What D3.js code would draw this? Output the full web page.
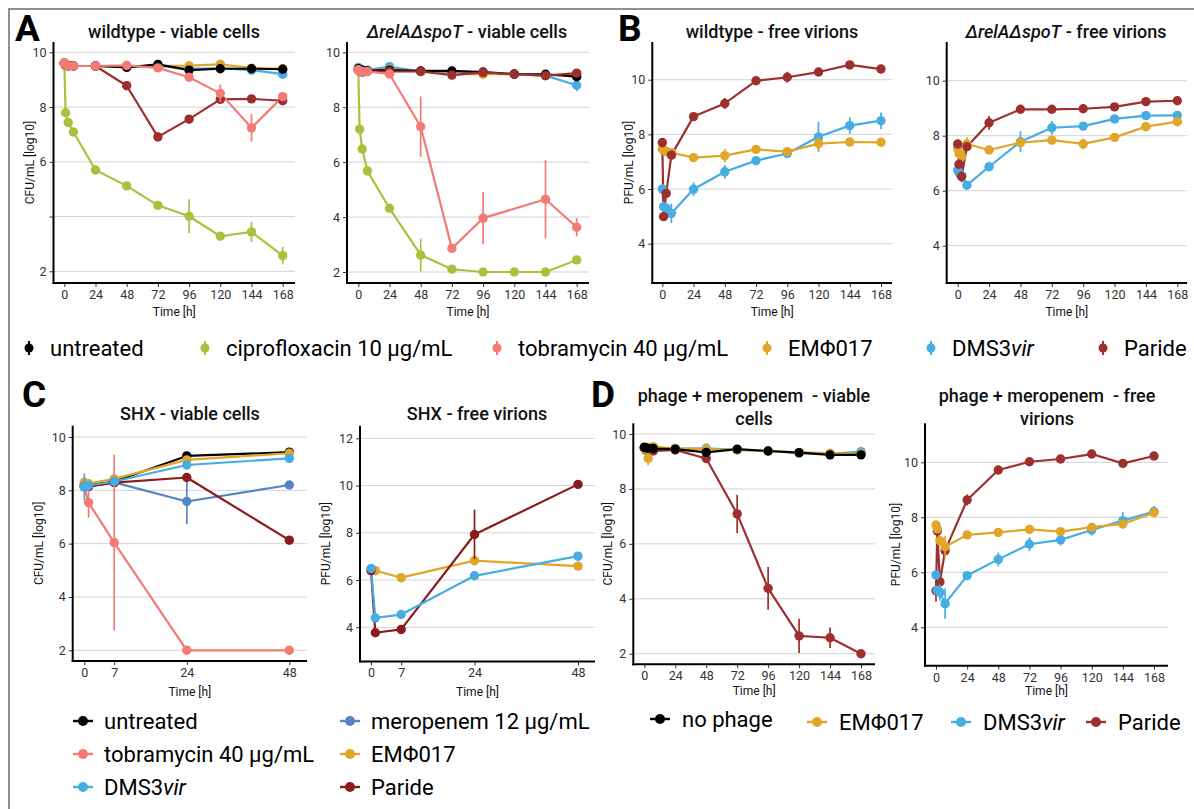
<!DOCTYPE html>
<html><head><meta charset="utf-8">
<script src="https://cdn.jsdelivr.net/npm/d3@7"></script>
<style>
body{margin:0;background:#fff}
svg{display:block}
text{font-family:Roboto,"Noto Sans",sans-serif}
</style>
</head><body>
<svg id="c" width="1194" height="809"></svg>
<script>
// ---------- shared axes / categories ----------
const timesLong = [0,1,3,7,24,48,72,96,120,144,168];
const timesSHX  = [0,1,7,24,48];
const xTicksLong = [0,24,48,72,96,120,144,168];
const xTicksSHX  = [0,7,24,48];
const yTicksCFU = [10,8,6,4,2];
const yLabelsCFUwt = ["10","8","6","","2"];
const yTicksPFU = [10,8,6,4];
const yTicksPFUshx = [12,10,8,6,4];

// ---------- A: wildtype - viable cells ----------
const wtV_untreated = [9.60,9.55,9.52,9.50,9.50,9.45,9.56,9.35,9.40,9.40,9.38];
const wtV_cipro     = [9.62,7.79,7.44,7.09,5.70,5.12,4.41,4.01,3.28,3.44,2.57];
const wtV_cipro_sd  = [0,0,0,0,0.08,0.08,0.08,0.62,0.08,0.37,0.32];
const wtV_tobra     = [9.62,9.55,9.50,9.50,9.50,9.52,9.43,9.09,8.50,7.24,8.38];
const wtV_tobra_sd  = [0,0,0,0,0,0,0,0.1,0.32,0.5,0];
const wtV_emf       = [9.60,9.52,9.50,9.50,9.50,9.50,9.50,9.51,9.56,9.42,9.40];
const wtV_dms       = [9.60,9.52,9.50,9.50,9.50,9.48,9.50,9.40,9.42,9.35,9.20];
const wtV_paride    = [9.60,9.55,9.50,9.50,9.50,8.78,6.91,7.56,8.28,8.30,8.23];
const wtV_paride_sd = [0,0,0,0,0,0.05,0.17,0.15,0.1,0.05,0];

// ---------- A: ΔrelAΔspoT - viable cells ----------
const rsV_untreated = [9.40,9.38,9.35,9.33,9.35,9.32,9.32,9.28,9.21,9.20,9.11];
const rsV_cipro     = [9.36,7.20,6.48,5.68,4.32,2.62,2.10,2.00,2.00,2.00,2.44];
const rsV_cipro_sd  = [0,0,0,0,0,0.6,0,0,0,0,0];
const rsV_tobra     = [9.36,9.30,9.30,9.30,9.21,7.29,2.86,3.96,null,4.65,3.63];
const rsV_tobra_sd  = [0,0,0,0,0,1.1,0.15,0.95,0,1.42,0.33];
const rsV_emf       = [9.38,9.35,9.33,9.33,9.38,9.30,9.20,9.20,9.20,9.15,9.20];
const rsV_dms       = [9.45,9.40,9.35,9.35,9.48,9.30,9.22,9.25,9.20,9.15,8.80];
const rsV_dms_sd    = [0,0,0,0,0,0,0,0,0,0,0.22];
const rsV_paride    = [9.35,9.30,9.28,9.30,9.30,9.30,9.17,9.27,9.20,9.15,9.24];

// ---------- B: wildtype - free virions ----------
const wtP_emf       = [7.46,7.43,7.37,7.33,7.15,7.22,7.45,7.37,7.66,7.72,7.71];
const wtP_emf_sd    = [0,0,0,0,0.15,0.25,0.1,0.1,0.25,0.08,0.08];
const wtP_dms       = [6.00,5.35,5.30,5.11,5.99,6.63,7.04,7.30,7.91,8.32,8.50];
const wtP_dms_sd    = [0,0.2,0.2,0.35,0.25,0.25,0.15,0.15,0.55,0.3,0.3];
const wtP_paride    = [7.70,4.99,5.84,7.24,8.65,9.13,9.96,10.09,10.28,10.54,10.39];
const wtP_paride_sd = [0,0,0,0,0.08,0.2,0.15,0.2,0.08,0.08,0.15];

// ---------- B: ΔrelAΔspoT - free virions ----------
const rsP_emf       = [7.54,7.36,7.24,7.70,7.48,7.75,7.84,7.70,7.94,8.33,8.51];
const rsP_emf_sd    = [0,0,0.1,0.25,0.08,0.08,0.08,0.2,0.08,0.18,0.08];
const rsP_dms       = [6.75,6.65,6.55,6.20,6.87,7.78,8.29,8.35,8.61,8.73,8.74];
const rsP_dms_sd    = [0,0,0,0,0,0.38,0.25,0.08,0.08,0.08,0.08];
const rsP_paride    = [7.70,6.96,6.51,7.60,8.47,8.96,8.96,8.98,9.05,9.24,9.27];
const rsP_paride_sd = [0,0,0.2,0.12,0.25,0.1,0.05,0.05,0.05,0.05,0.05];

// ---------- C: SHX - viable cells ----------
const shxV_untreated = [8.20,8.20,8.33,9.29,9.43];
const shxV_tobra     = [8.13,7.54,6.04,2.00,2.00];
const shxV_tobra_sd  = [0,0.56,3.3,0,0];
const shxV_mero      = [8.13,8.15,8.30,7.58,8.20];
const shxV_mero_sd   = [0,0,0,0.85,0];
const shxV_emf       = [8.30,8.25,8.43,9.14,9.39];
const shxV_dms       = [8.13,8.18,8.33,8.95,9.20];
const shxV_dms_sd    = [0.5,0,0,0,0];
const shxV_paride    = [8.15,8.14,8.29,8.48,6.13];
const shxV_paride_sd = [0,0,0,0.15,0.15];

// ---------- C: SHX - free virions ----------
const shxP_emf       = [6.45,6.40,6.10,6.82,6.59];
const shxP_emf_sd    = [0,0.2,0,0,0];
const shxP_dms       = [6.49,4.40,4.54,6.18,7.01];
const shxP_paride    = [6.40,3.77,3.91,7.93,10.05];
const shxP_paride_sd = [0,0.15,0,1.05,0];

// ---------- D: phage + meropenem - viable cells ----------
const mpV_nophage   = [9.52,9.50,9.48,9.47,9.45,9.33,9.45,9.38,9.32,9.24,9.24];
const mpV_emf       = [9.50,9.45,9.11,9.54,9.47,9.45,9.42,9.38,9.33,9.30,9.28];
const mpV_emf_sd    = [0,0,0.25,0,0,0,0,0,0,0,0];
const mpV_dms       = [9.50,9.48,9.45,9.50,9.47,9.48,9.42,9.38,9.30,9.28,9.36];
const mpV_paride    = [9.48,9.42,9.40,9.38,9.42,9.11,7.09,4.38,2.65,2.58,2.00];
const mpV_paride_sd = [0,0,0,0,0,0.05,0.7,0.78,0.62,0.37,0];

// ---------- D: phage + meropenem - free virions ----------
const mpP_emf       = [7.72,7.58,7.15,6.93,7.36,7.45,7.56,7.48,7.64,7.76,8.17];
const mpP_emf_sd    = [0,0,0,0.4,0,0,0,0,0,0.1,0.1];
const mpP_dms       = [5.90,5.35,5.27,4.86,5.88,6.47,7.02,7.18,7.54,7.88,8.21];
const mpP_dms_sd    = [0,0.15,0.3,0.55,0.1,0.25,0.25,0.2,0.2,0.3,0.2];
const mpP_paride    = [5.33,7.50,5.65,6.79,8.63,9.72,10.02,10.12,10.30,9.96,10.23];
const mpP_paride_sd = [0.4,0.2,0.3,0.2,0.2,0.15,0.15,0.15,0.1,0.1,0.15];

// ---------- legend labels ----------
const legendTop = ["untreated","ciprofloxacin 10 µg/mL","tobramycin 40 µg/mL","EMΦ017","DMS3vir","Paride"];
const legendC = ["untreated","tobramycin 40 µg/mL","DMS3vir","meropenem 12 µg/mL","EMΦ017","Paride"];
const legendD = ["no phage","EMΦ017","DMS3vir","Paride"];

const colors = {
  untreated:"#000000", cipro:"#a8c23f", tobra:"#f47a76", emf:"#e1a52a",
  dms:"#45ade2", paride:"#9e2f2f", parideC:"#8b1c1c", mero:"#5386c1"
};

const S = (key,v,e,t)=>({key,v,e:e||v.map(()=>0),t:t||timesLong});

const panels = [
 {left:53.5,right:295,top:42,bottom:283,x:[0,64.3,168,282.7],y:[10,52.3,2,271.3],
  xt:xTicksLong,yt:yTicksCFU,yl:yLabelsCFUwt,title:[[["wildtype - viable cells",0]]],tx:174,ty:[38],
  ytitle:"CFU/mL [log10]",ytx:29.5,xty:316,
  series:[S("dms",wtV_dms),S("emf",wtV_emf),S("untreated",wtV_untreated),S("paride",wtV_paride,wtV_paride_sd),S("cipro",wtV_cipro,wtV_cipro_sd),S("tobra",wtV_tobra,wtV_tobra_sd)]},
 {left:347,right:589,top:42,bottom:283,x:[0,358.3,168,576.7],y:[10,52.3,2,272],
  xt:xTicksLong,yt:yTicksCFU,title:[[["ΔrelAΔspoT",1],[" - viable cells",0]]],tx:467,ty:[38],
  ytitle:null,xty:316,
  series:[S("dms",rsV_dms,rsV_dms_sd),S("emf",rsV_emf),S("untreated",rsV_untreated),S("paride",rsV_paride),S("cipro",rsV_cipro,rsV_cipro_sd),S("tobra",rsV_tobra,rsV_tobra_sd)]},
 {left:652.3,right:892,top:42,bottom:283,x:[0,662.3,168,881],y:[10,79.7,4,243.7],
  xt:xTicksLong,yt:yTicksPFU,title:[[["wildtype - free virions",0]]],tx:772,ty:[38],
  ytitle:"PFU/mL [log10]",ytx:629,xty:316,
  series:[S("dms",wtP_dms,wtP_dms_sd),S("emf",wtP_emf,wtP_emf_sd),S("paride",wtP_paride,wtP_paride_sd)]},
 {left:946.7,right:1187,top:42,bottom:283,x:[0,957.7,168,1177.3],y:[10,80.7,4,245.7],
  xt:xTicksLong,yt:yTicksPFU,title:[[["ΔrelAΔspoT",1],[" - free virions",0]]],tx:1066,ty:[38],
  ytitle:null,xty:316,
  series:[S("dms",rsP_dms,rsP_dms_sd),S("emf",rsP_emf,rsP_emf_sd),S("paride",rsP_paride,rsP_paride_sd)]},
 {left:72.7,right:307,top:425.7,bottom:661,x:[0,84.3,48,289.3],y:[10,437,2,650.3],
  xt:xTicksSHX,yt:yTicksCFU,title:[[["SHX - viable cells",0]]],tx:190,ty:[420],
  ytitle:"CFU/mL [log10]",ytx:38.5,xty:696,
  series:[S("untreated",shxV_untreated,null,timesSHX),S("emf",shxV_emf,null,timesSHX),S("mero",shxV_mero,shxV_mero_sd,timesSHX),
          S("parideC",shxV_paride,shxV_paride_sd,timesSHX),S("tobra",shxV_tobra,shxV_tobra_sd,timesSHX),S("dms",shxV_dms,shxV_dms_sd,timesSHX)]},
 {left:360,right:595,top:425.7,bottom:661.5,x:[0,371,48,578],y:[12,438.3,4,627.3],
  xt:xTicksSHX,yt:yTicksPFUshx,title:[[["SHX - free virions",0]]],tx:477,ty:[420],
  ytitle:"PFU/mL [log10]",ytx:326,xty:696,
  series:[S("emf",shxP_emf,shxP_emf_sd,timesSHX),S("parideC",shxP_paride,shxP_paride_sd,timesSHX),S("dms",shxP_dms,null,timesSHX)]},
 {left:633.3,right:875,top:423.3,bottom:664.3,x:[0,644.3,168,861],y:[10,434,2,653.7],
  xt:xTicksLong,yt:yTicksCFU,title:[[["phage + meropenem  - viable",0]],[["cells",0]]],tx:754,ty:[402,425],
  ytitle:"CFU/mL [log10]",ytx:608,xty:695,
  series:[S("paride",mpV_paride,mpV_paride_sd),S("dms",mpV_dms),S("emf",mpV_emf,mpV_emf_sd),S("untreated",mpV_nophage)]},
 {left:925,right:1168,top:423.3,bottom:665.7,x:[0,936,168,1154],y:[10,462.3,4,627.3],
  xt:xTicksLong,yt:yTicksPFU,title:[[["phage + meropenem  - free",0]],[["virions",0]]],tx:1047,ty:[402,425],
  ytitle:"PFU/mL [log10]",ytx:896,xty:695,
  series:[S("paride",mpP_paride,mpP_paride_sd),S("dms",mpP_dms,mpP_dms_sd),S("emf",mpP_emf,mpP_emf_sd)]}
];

const svg = d3.select("#c");
svg.append("path").attr("d","M9,809V9H1194").attr("fill","none").attr("stroke","#8f8f8f").attr("stroke-width",2);

function drawPanel(p){
  const g = svg.append("g");
  const x = d3.scaleLinear().domain([p.x[0],p.x[2]]).range([p.x[1],p.x[3]]);
  const y = d3.scaleLinear().domain([p.y[0],p.y[2]]).range([p.y[1],p.y[3]]);
  g.append("g").selectAll("line").data(p.yt).join("line")
    .attr("x1",p.left).attr("x2",p.right).attr("y1",d=>y(d)).attr("y2",d=>y(d))
    .attr("stroke","#d3d3d3").attr("stroke-width",1);
  const ya = d3.axisLeft(y).tickValues(p.yt).tickFormat((d,i)=>p.yl?p.yl[i]:String(d)).tickSize(4).tickPadding(3);
  const yg = g.append("g").attr("transform",`translate(${p.left},0)`).call(ya)
     .attr("font-size",12.5).attr("font-family","Roboto");
  yg.select(".domain").remove();
  yg.selectAll("line").attr("stroke","#333");
  yg.selectAll("text").attr("fill","#333");
  const xa = d3.axisBottom(x).tickValues(p.xt).tickSize(4).tickPadding(3);
  const xg = g.append("g").attr("transform",`translate(0,${p.bottom})`).call(xa)
     .attr("font-size",12.5).attr("font-family","Roboto");
  xg.select(".domain").remove();
  xg.selectAll("line").attr("stroke","#333");
  xg.selectAll("text").attr("fill","#333");
  g.append("line").attr("x1",p.left).attr("x2",p.left).attr("y1",p.top).attr("y2",p.bottom+1)
    .attr("stroke","#000").attr("stroke-width",2);
  g.append("line").attr("x1",p.left-1).attr("x2",p.right).attr("y1",p.bottom).attr("y2",p.bottom)
    .attr("stroke","#000").attr("stroke-width",2);
  // title
  p.title.forEach((line,li)=>{
    const t = g.append("text").attr("x",p.tx).attr("y",p.ty[li]).attr("text-anchor","middle")
      .attr("font-size",18).attr("font-weight",500).style("white-space","pre").attr("fill","#111");
    line.forEach(([s,it])=>t.append("tspan").text(s).attr("font-style",it?"italic":"normal"));
  });
  if(p.ytitle){
    g.append("text").attr("transform",`translate(${p.ytx},${(p.top+p.bottom)/2}) rotate(-90)`)
      .attr("text-anchor","middle").attr("dy","0.35em").attr("font-size",12).attr("fill","#111").text(p.ytitle);
  }
  g.append("text").attr("x",(p.left+p.right)/2).attr("y",p.xty).attr("text-anchor","middle")
    .attr("font-size",12).attr("fill","#111").text("Time [h]");
  const line = d3.line().defined(d=>d.v!=null).x(d=>x(d.t)).y(d=>y(d.v));
  const rows = s => s.t.map((t,i)=>({t,v:s.v[i],e:s.e[i]}));
  p.series.forEach(s=>{
    g.append("path").datum(rows(s).filter(d=>d.v!=null)).attr("d",line).attr("fill","none")
      .attr("stroke",colors[s.key]).attr("stroke-width",2.2).attr("stroke-linejoin","round");
  });
  p.series.forEach(s=>{
    const d = rows(s).filter(r=>r.v!=null);
    const sg = g.append("g");
    sg.selectAll("line").data(d.filter(r=>r.e>0)).join("line")
      .attr("x1",r=>x(r.t)).attr("x2",r=>x(r.t)).attr("y1",r=>y(r.v-r.e)).attr("y2",r=>y(r.v+r.e))
      .attr("stroke",colors[s.key]).attr("stroke-width",1.7);
    sg.selectAll("circle").data(d).join("circle")
      .attr("cx",r=>x(r.t)).attr("cy",r=>y(r.v)).attr("r",4.7).attr("fill",colors[s.key]);
  });
}
panels.forEach(drawPanel);

// panel letters
const letters = [["A",15,41],["B",618,41],["C",22,407],["D",591,407]];
svg.selectAll(".lt").data(letters).join("text").attr("x",d=>d[1]).attr("y",d=>d[2])
  .attr("font-family","Liberation Sans, Arial, sans-serif").attr("font-weight","bold").attr("font-size",37)
  .attr("fill","#000").text(d=>d[0]);

// legends
function labelText(t,x,y,size){
  const el = svg.append("text").attr("x",x).attr("y",y).attr("dy","0.35em").attr("font-size",size).attr("fill","#000");
  if(t==="DMS3vir"){ el.append("tspan").text("DMS3"); el.append("tspan").attr("font-style","italic").text("vir"); }
  else el.text(t);
}
function keyV(c,x,y){
  svg.append("line").attr("x1",x).attr("x2",x).attr("y1",y-7).attr("y2",y+7).attr("stroke",c).attr("stroke-width",2);
  svg.append("circle").attr("cx",x).attr("cy",y).attr("r",4.5).attr("fill",c);
}
function keyH(c,x,y){
  svg.append("line").attr("x1",x-10).attr("x2",x+10).attr("y1",y).attr("y2",y).attr("stroke",c).attr("stroke-width",2.4);
  svg.append("circle").attr("cx",x).attr("cy",y).attr("r",5).attr("fill",c);
}
const topKeys = ["untreated","cipro","tobra","emf","dms","paride"];
const topX = [29,205,497,767,931,1103];
legendTop.forEach((t,i)=>{ keyV(colors[topKeys[i]],topX[i],348); labelText(t,topX[i]+21,348,22); });

const cKeys = ["untreated","tobra","dms","mero","emf","parideC"];
legendC.forEach((t,i)=>{
  const col = Math.floor(i/3), row = i%3;
  const mx = [83,350][col], my = [721,754,787][row];
  keyH(colors[cKeys[i]],mx,my); labelText(t,mx+21,my,22);
});
const dKeys = ["untreated","emf","dms","paride"];
const dX = [660,817,961,1096], dY = [719,722,722,722];
legendD.forEach((t,i)=>{ keyH(colors[dKeys[i]],dX[i],dY[i]); labelText(t,dX[i]+22,dY[i],22); });
</script>
</body></html>
